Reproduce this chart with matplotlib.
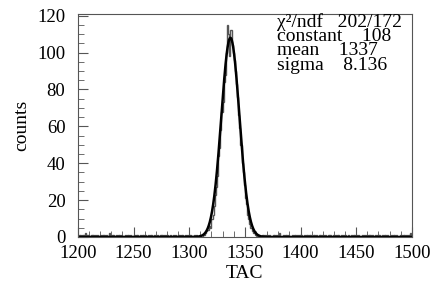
import numpy as np
import matplotlib
matplotlib.use("Agg")
import matplotlib.pyplot as plt
from matplotlib.ticker import MultipleLocator

# TAC histogram, 1 channel per bin, 1200..1499
left_noise = ["0110102011", "0011010100", "1011010021", "0100101101",
              "0010110100", "1011001010", "1001011010", "0100110101",
              "1001010100", "1101001010", "1100101001", "001"]
peak_counts = [1, 2, 3, 4, 4, 6, 5, 10, 12, 17, 23, 27, 33, 44, 48, 58, 68,
               73, 84, 88, 100, 115, 110, 98, 112, 104, 100, 96, 90, 83, 76,
               66, 59, 50, 40, 35, 28, 21, 18, 12, 10, 7, 5, 3, 2, 2, 1, 1]
right_noise = ["010011010", "1010011010", "1200101101", "0010110101",
               "1001011010", "0110100101", "1010011001", "0101101010",
               "1001010110", "1010010101", "0110100101", "1001011010",
               "0101101001", "1011010120"]

fit_chi2 = "202/172"
fit_const = 108
fit_mean = 1337
fit_sigma = 8.136

counts = [int(c) for c in "".join(left_noise)] + peak_counts + \
         [int(c) for c in "".join(right_noise)]
counts = np.array(counts)
edges = np.arange(1200, 1200 + len(counts) + 1)

plt.rcParams['font.family'] = ['Liberation Serif', 'DejaVu Serif']

fig = plt.figure(figsize=(4.33, 2.89), dpi=100)
ax = fig.add_axes([0.180, 0.180, 0.771, 0.772])

ax.stairs(counts, edges, color="#555555", lw=1.0)
xf = np.linspace(1200, 1500, 1500)
yf = fit_const * np.exp(-0.5 * ((xf - fit_mean) / fit_sigma) ** 2)
ax.plot(xf, yf, color="black", lw=1.8)

ax.set_xlim(1200, 1500)
ax.set_ylim(0, 121)
ax.xaxis.set_major_locator(MultipleLocator(50))
ax.xaxis.set_minor_locator(MultipleLocator(10))
ax.yaxis.set_major_locator(MultipleLocator(20))
ax.yaxis.set_minor_locator(MultipleLocator(5))
ax.tick_params(which="both", direction="in", labelsize=13.5, color="#555555")
ax.tick_params(which="major", length=7)
ax.tick_params(which="minor", length=4)
ax.tick_params(axis="x", pad=6)
ax.tick_params(axis="y", pad=9)
for s in ax.spines.values():
    s.set_color("#555555")
    s.set_linewidth(0.8)

ax.set_xlabel("TAC", fontsize=14, labelpad=2)
ax.set_ylabel("counts", fontsize=14, labelpad=5)

# fit statistics
stats = "\n".join([
    "χ²/ndf   " + fit_chi2,
    "constant    " + str(fit_const),
    "mean    " + str(fit_mean),
    "sigma    " + str(fit_sigma),
])
fig.text(277 / 433, 1 - 13 / 289, stats, fontsize=14, va="top", ha="left",
         linespacing=0.79)

fig.savefig("out.png", dpi=100)
